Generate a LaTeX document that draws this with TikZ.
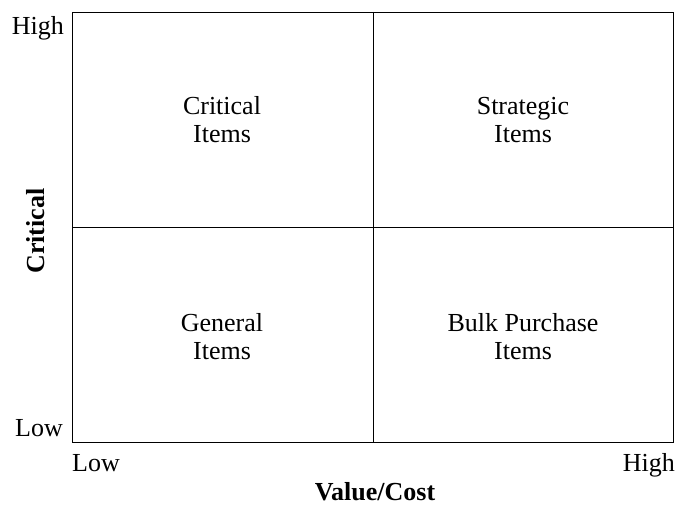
\documentclass[tikz,border=0pt]{standalone}
\usepackage{fontspec}
\setmainfont{Liberation Serif}
\begin{document}
\begin{tikzpicture}[x=1pt,y=1pt,
  lbl/.style={inner sep=0pt, font=\fontsize{26}{28}\selectfont, align=center},
  axis/.style={inner sep=0pt, font=\fontsize{26}{28}\selectfont},
  ttl/.style={inner sep=0pt, font=\fontsize{26}{28}\selectfont\bfseries},
  frame/.style={line width=0.9pt, draw=black}]
\useasboundingbox (0,0) rectangle (676,506);
\coordinate (bl) at (72,64);
\coordinate (tr) at (673,494);
\coordinate (mt) at (373,494);
\coordinate (mb) at (373,64);
\coordinate (ml) at (72,279);
\coordinate (mr) at (673,279);
\draw[frame] (bl) rectangle (tr);
\draw[frame] (mt) -- (mb);
\draw[frame] (ml) -- (mr);
\node[lbl] (ci) at (222,386) {Critical\\Items};
\node[lbl] (si) at (523,386) {Strategic\\Items};
\node[lbl] (gi) at (222,169) {General\\Items};
\node[lbl] (bi) at (523,169) {Bulk Purchase\\Items};
\node[axis, anchor=base east] (yh) at (64,471) {High};
\node[axis, anchor=base east] (yl) at (63,70) {Low};
\node[axis, anchor=base west] (xl) at (72,35) {Low};
\node[axis, anchor=base east] (xh) at (675,35) {High};
\node[ttl, anchor=base] (xt) at (375,6) {Value/Cost};
\node[ttl, anchor=base, rotate=90] (yt) at (44,275) {Critical};
\end{tikzpicture}
\end{document}
